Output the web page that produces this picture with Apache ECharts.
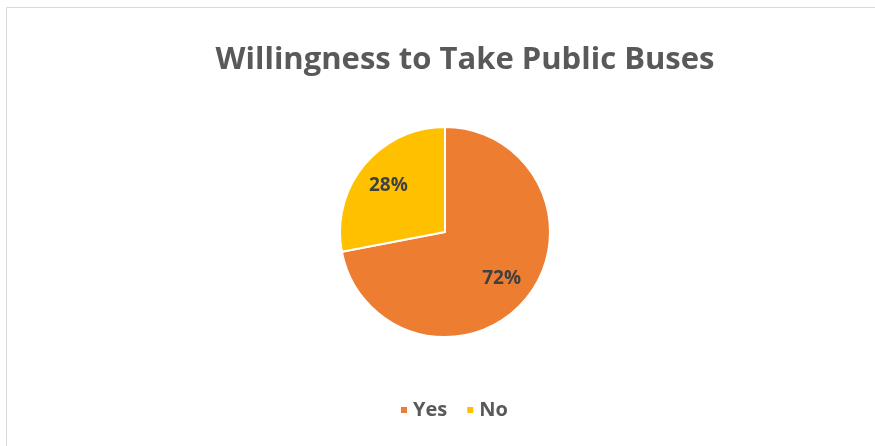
<!DOCTYPE html>
<html><head><meta charset="utf-8">
<script src="https://cdn.jsdelivr.net/npm/echarts@6/dist/echarts.min.js"></script>
<style>html,body{margin:0;padding:0;background:#fff}#c{width:875px;height:446px}</style>
</head><body><div id="c"></div>
<script>
const categories = ['Yes', 'No'];
const values = [72, 28];
const colors = ['#ED7D31', '#FFC000'];
const titleText = 'Willingness to Take Public Buses';

const chart = echarts.init(document.getElementById('c'));
const data = categories.map((n, i) => ({ name: n, value: values[i], itemStyle: { color: colors[i] } }));
chart.setOption({
  animation: false,
  graphic: [{ type: 'rect', shape: { x: 6.5, y: 7.5, width: 900, height: 500 }, style: { fill: 'none', stroke: '#D9D9D9', lineWidth: 1 } }],
  title: {
    text: titleText, left: 460, top: 40, textAlign: 'center',
    textStyle: { fontFamily: 'Open Sans', fontWeight: 'bold', fontSize: 31, color: '#595959' }
  },
  legend: {
    data: categories, bottom: 21, left: 394, itemWidth: 8, itemHeight: 8, itemGap: 18,
    icon: 'rect',
    textStyle: { fontFamily: 'Open Sans', fontWeight: 'bold', fontSize: 20, color: '#595959' }
  },
  series: [{
    type: 'pie', center: [445, 232], radius: 105, startAngle: 90, clockwise: true,
    itemStyle: { borderColor: '#fff', borderWidth: 2 },
    label: { show: false }, labelLine: { show: false },
    data: data
  }, {
    type: 'pie', center: [445, 232], radius: [36, 105], startAngle: 90, clockwise: true, silent: true,
    legendHoverLink: false,
    itemStyle: { color: 'rgba(0,0,0,0)' },
    label: { show: true, position: 'inside', formatter: p => p.value + '%',
      fontFamily: 'Open Sans', fontWeight: 'bold', fontSize: 19, color: '#404040' },
    labelLine: { show: false },
    data: categories.map((n, i) => ({ name: n + ' ', value: values[i] }))
  }]
});
</script></body></html>
